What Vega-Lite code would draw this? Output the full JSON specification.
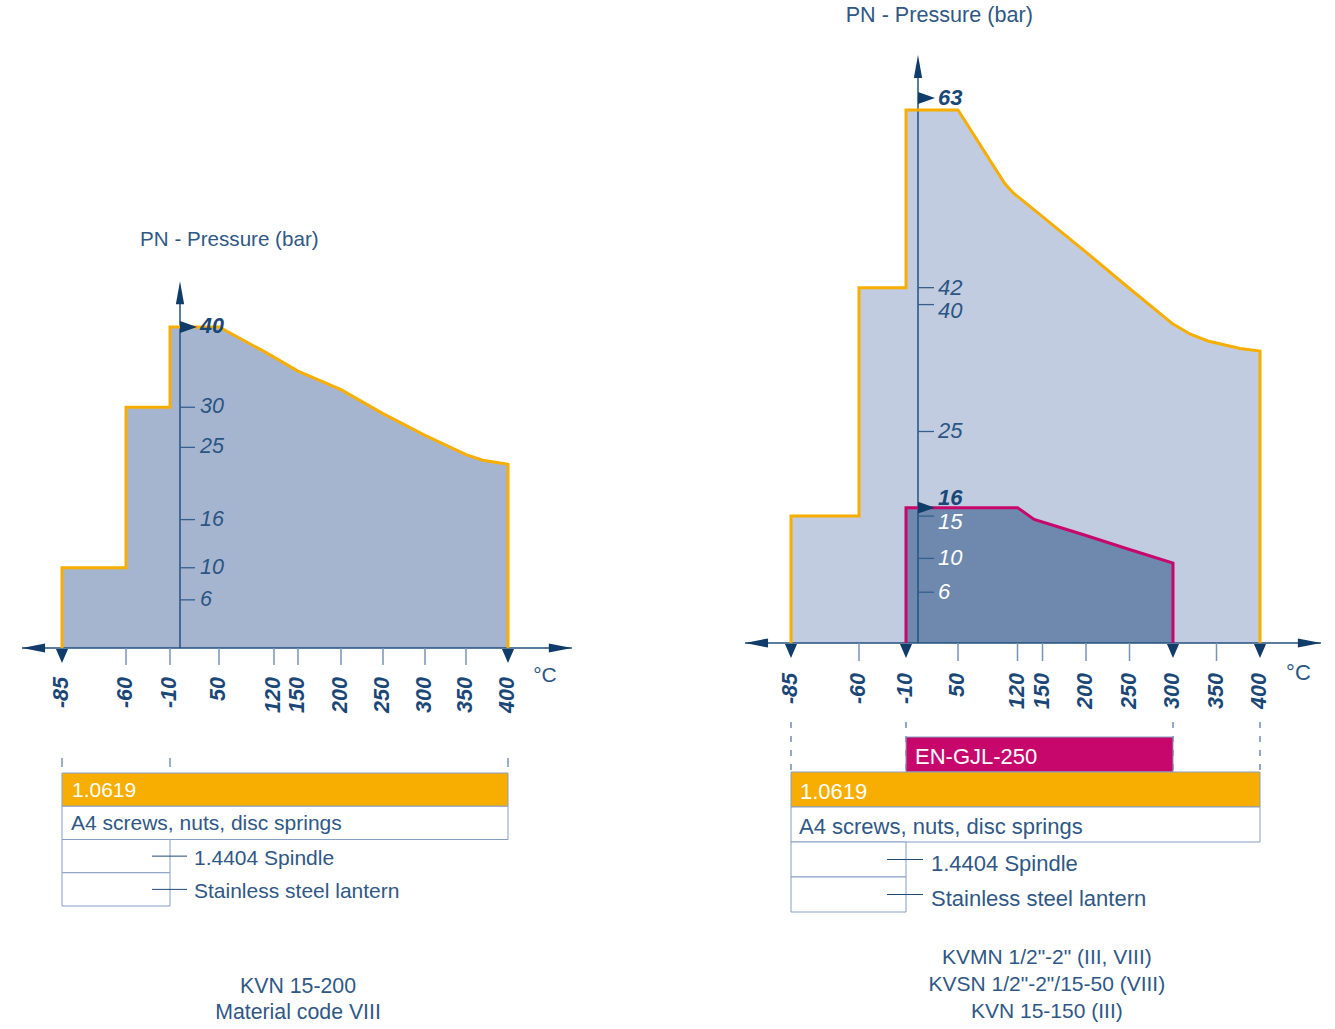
{
"$schema": "https://vega.github.io/schema/vega-lite/v6.json",
"width": 1335, "height": 1029, "autosize": {"type": "none"}, "padding": 0, "background": "white",
"config": {"font": "Liberation Sans", "view": {"stroke": null}, "axis": {"disable": true}, "legend": {"disable": true}},
"data": {"values": [{}]},
"datasets": {
 "Lenv": [{"t":-85,"p":0},{"t":-85,"p":10},{"t":-60,"p":10},{"t":-60,"p":30},{"t":-10,"p":30},{"t":-10,"p":40},{"t":50,"p":40},{"t":110,"p":36.8},{"t":150,"p":34.5},{"t":200,"p":32.2},{"t":250,"p":29.2},{"t":300,"p":26.5},{"t":350,"p":24.1},{"t":370,"p":23.4},{"t":400,"p":22.9},{"t":400,"p":0}],
 "Renv": [{"t":-85,"p":0},{"t":-85,"p":15},{"t":-60,"p":15},{"t":-60,"p":42},{"t":-10,"p":42},{"t":-10,"p":63},{"t":50,"p":63},{"t":105,"p":54.3},{"t":115,"p":53.2},{"t":150,"p":50.4},{"t":200,"p":46.2},{"t":250,"p":41.9},{"t":300,"p":37.7},{"t":320,"p":36.5},{"t":340,"p":35.7},{"t":377,"p":34.8},{"t":400,"p":34.5},{"t":400,"p":0}],
 "Rcast": [{"t":-10,"p":0},{"t":-10,"p":16},{"t":120,"p":16},{"t":140,"p":14.6},{"t":175,"p":13.5},{"t":200,"p":12.7},{"t":250,"p":11.05},{"t":300,"p":9.45},{"t":300,"p":0}],
 "Lx": [{"t":-85,"limit":true},{"t":-60,"limit":false},{"t":-10,"limit":false},{"t":50,"limit":false},{"t":120,"limit":false},{"t":150,"limit":false},{"t":200,"limit":false},{"t":250,"limit":false},{"t":300,"limit":false},{"t":350,"limit":false},{"t":400,"limit":true}],
 "Rx": [{"t":-85,"limit":true},{"t":-60,"limit":false},{"t":-10,"limit":true},{"t":50,"limit":false},{"t":120,"limit":false},{"t":150,"limit":false},{"t":200,"limit":false},{"t":250,"limit":false},{"t":300,"limit":true},{"t":350,"limit":false},{"t":400,"limit":true}],
 "Ly": [{"p":6,"rated":false},{"p":10,"rated":false},{"p":16,"rated":false},{"p":25,"rated":false},{"p":30,"rated":false},{"p":40,"rated":true}],
 "Ry": [{"p":6,"zone":"cast"},{"p":10,"zone":"cast"},{"p":15,"zone":"cast"},{"p":16,"zone":"castRated"},{"p":25,"zone":"body"},{"p":40,"zone":"body"},{"p":42,"zone":"body"},{"p":63,"zone":"bodyRated"}],
 "Ledges": [{"t":-85},{"t":-10},{"t":400}],
 "Redges": [{"t":-85},{"t":-10},{"t":300},{"t":400}],
 "Ltab": [{"row":"1.0619","type":"body","t0":-85,"t1":400},{"row":"A4 screws, nuts, disc springs","type":"fastener","t0":-85,"t1":400},{"row":"1.4404 Spindle","type":"part","t0":-85,"t1":-10},{"row":"Stainless steel lantern","type":"part","t0":-85,"t1":-10}],
 "Rtab": [{"row":"EN-GJL-250","type":"cast","t0":-10,"t1":300},{"row":"1.0619","type":"body","t0":-85,"t1":400},{"row":"A4 screws, nuts, disc springs","type":"fastener","t0":-85,"t1":400},{"row":"1.4404 Spindle","type":"part","t0":-85,"t1":-10},{"row":"Stainless steel lantern","type":"part","t0":-85,"t1":-10}],
 "Lcap": [{"line":"KVN 15-200"},{"line":"Material code VIII"}],
 "Rcap": [{"line":"KVMN 1/2\"-2\" (III, VIII)"},{"line":"KVSN 1/2\"-2\"/15-50 (VIII)"},{"line":"KVN 15-150 (III)"}]
},
"resolve": {"scale": {"x": "independent", "y": "independent"}},
"layer": [
 {
  "resolve": {"scale": {"y": "independent"}},
  "layer": [
   {"layer": [
    {"data":{"name":"Lenv"},"mark":{"type":"area","fill":"#a6b5cf","opacity":1},"encoding":{"x":{"field":"t","type":"quantitative","scale":{"type":"linear","domain":[-85,-60,-10,0,50,120,150,200,250,300,350,400],"range":[62,126,170,180,219,274,298,341,383,425,466,508],"zero":false,"nice":false}},"y":{"field":"p","type":"quantitative","stack":null,"scale":{"type":"linear","domain":[0,40],"range":[648,327],"zero":false,"nice":false}}}},
    {"mark":{"type":"rule","color":"#23507f","strokeWidth":1.5},"encoding":{"x":{"datum":0},"y":{"datum":0},"y2":{"datum":44}}},
    {"mark":{"type":"rule","color":"#23507f","strokeWidth":1.5},"encoding":{"x":{"datum":-100.6},"x2":{"datum":476},"y":{"datum":0}}},
    {"data":{"name":"Lx"},"transform":[{"filter":"!datum.limit"}],"mark":{"type":"rule","color":"#7893b8","strokeWidth":1.5,"y2Offset":17},"encoding":{"x":{"field":"t","type":"quantitative"},"y":{"datum":0},"y2":{"datum":0}}},
    {"data":{"name":"Ly"},"transform":[{"filter":"!datum.rated"}],"mark":{"type":"rule","color":"#34608e","strokeWidth":1.3,"x2Offset":15},"encoding":{"x":{"datum":0},"x2":{"datum":0},"y":{"field":"p","type":"quantitative"}}},
    {"data":{"name":"Lenv"},"mark":{"type":"line","color":"#f7ae00","strokeWidth":3,"strokeJoin":"miter"},"encoding":{"x":{"field":"t","type":"quantitative"},"y":{"field":"p","type":"quantitative"}}},
    {"mark":{"type":"point","shape":"M0,0L-0.36,2L0.36,2Z","size":529,"filled":true,"opacity":1,"color":"#0f3c68","strokeWidth":0},"encoding":{"x":{"datum":0},"y":{"datum":45.7}}},
    {"mark":{"type":"point","shape":"M0,0L2,-0.4L2,0.4Z","size":529,"filled":true,"opacity":1,"color":"#0f3c68","strokeWidth":0},"encoding":{"x":{"datum":-100.6},"y":{"datum":0}}},
    {"mark":{"type":"point","shape":"M0,0L-2,-0.4L-2,0.4Z","size":529,"filled":true,"opacity":1,"color":"#0f3c68","strokeWidth":0},"encoding":{"x":{"datum":476},"y":{"datum":0}}},
    {"data":{"name":"Lx"},"transform":[{"filter":"datum.limit"}],"mark":{"type":"point","shape":"M-0.43,0.07L0.43,0.07L0,1.07Z","size":784,"filled":true,"opacity":1,"color":"#0f3c68","strokeWidth":0},"encoding":{"x":{"field":"t","type":"quantitative"},"y":{"datum":0}}},
    {"data":{"name":"Ly"},"transform":[{"filter":"datum.rated"}],"mark":{"type":"point","shape":"M0,-0.35L1,0L0,0.35Z","size":1156,"filled":true,"opacity":1,"color":"#0f3c68","strokeWidth":0},"encoding":{"x":{"datum":0},"y":{"field":"p","type":"quantitative"}}},
    {"data":{"name":"Lx"},"mark":{"type":"text","angle":270,"align":"right","baseline":"middle","yOffset":29,"fontSize":21.5,"fontStyle":"italic","fontWeight":"bold","color":"#1b4777"},"encoding":{"x":{"field":"t","type":"quantitative"},"y":{"datum":0},"text":{"field":"t","type":"nominal"}}},
    {"data":{"name":"Ly"},"transform":[{"filter":"!datum.rated"}],"mark":{"type":"text","align":"left","baseline":"middle","dx":20,"fontSize":21.5,"fontStyle":"italic","color":"#2b5583"},"encoding":{"x":{"datum":0},"y":{"field":"p","type":"quantitative"},"text":{"field":"p","type":"nominal"}}},
    {"data":{"name":"Ly"},"transform":[{"filter":"datum.rated"}],"mark":{"type":"text","align":"left","baseline":"middle","dx":20,"fontSize":21.5,"fontStyle":"italic","fontWeight":"bold","color":"#1b4777"},"encoding":{"x":{"datum":0},"y":{"field":"p","type":"quantitative"},"text":{"field":"p","type":"nominal"}}},
    {"mark":{"type":"text","align":"left","baseline":"middle","yOffset":28,"fontSize":21,"color":"#2b5583","text":"°C"},"encoding":{"x":{"datum":430},"y":{"datum":0}}},
    {"mark":{"type":"text","align":"left","baseline":"middle","fontSize":20.6,"color":"#2f5886","text":"PN - Pressure (bar)"},"encoding":{"x":{"datum":-44},"y":{"datum":50.8}}},
    {"data":{"name":"Ledges"},"mark":{"type":"rule","color":"#7893b8","strokeWidth":1.5,"yOffset":110,"y2Offset":119},"encoding":{"x":{"field":"t","type":"quantitative"},"y":{"datum":0},"y2":{"datum":0}}}
   ]},
   {"layer": [
    {"data":{"name":"Ltab"},"mark":{"type":"rect","stroke":"#859fc2","strokeWidth":1},"encoding":{"x":{"field":"t0","type":"quantitative"},"x2":{"field":"t1"},"y":{"field":"row","type":"nominal","scale":{"type":"band","domain":["1.0619","A4 screws, nuts, disc springs","1.4404 Spindle","Stainless steel lantern"],"range":[773,906],"paddingInner":0,"paddingOuter":0}},"fill":{"field":"type","type":"nominal","legend":null,"scale":{"domain":["body","cast","fastener","part"],"range":["#f7ae00","#c8076d","#ffffff","#ffffff"]}}}},
    {"data":{"name":"Ltab"},"transform":[{"filter":"datum.type=='body'||datum.type=='cast'"}],"mark":{"type":"text","align":"left","baseline":"middle","dx":10,"dy":1,"fontSize":21,"color":"#ffffff"},"encoding":{"x":{"field":"t0","type":"quantitative"},"y":{"field":"row","type":"nominal"},"text":{"field":"row"}}},
    {"data":{"name":"Ltab"},"transform":[{"filter":"datum.type=='fastener'"}],"mark":{"type":"text","align":"left","baseline":"middle","dx":9,"dy":1,"fontSize":21,"color":"#2f5886"},"encoding":{"x":{"field":"t0","type":"quantitative"},"y":{"field":"row","type":"nominal"},"text":{"field":"row"}}},
    {"data":{"name":"Ltab"},"transform":[{"filter":"datum.type=='part'"}],"mark":{"type":"text","align":"left","baseline":"middle","dx":24,"dy":3,"fontSize":21,"color":"#2f5886"},"encoding":{"x":{"field":"t1","type":"quantitative"},"y":{"field":"row","type":"nominal"},"text":{"field":"row"}}},
    {"data":{"name":"Ltab"},"transform":[{"filter":"datum.type=='part'"}],"mark":{"type":"rule","color":"#1f4a78","strokeWidth":1,"xOffset":-18,"x2Offset":17},"encoding":{"x":{"field":"t1","type":"quantitative"},"x2":{"field":"t1"},"y":{"field":"row","type":"nominal"}}}
   ]},
   {"data":{"name":"Lcap"},"mark":{"type":"text","align":"center","baseline":"middle","fontSize":21.3,"color":"#2f5886"},"encoding":{"x":{"datum":150},"y":{"field":"line","type":"nominal","scale":{"type":"band","domain":["KVN 15-200","Material code VIII"],"range":[974,1026],"paddingInner":0,"paddingOuter":0}},"text":{"field":"line"}}}
  ]
 },
 {
  "resolve": {"scale": {"y": "independent"}},
  "layer": [
   {"layer": [
    {"data":{"name":"Renv"},"mark":{"type":"area","fill":"#c1cce0","opacity":1},"encoding":{"x":{"field":"t","type":"quantitative","scale":{"type":"linear","domain":[-85,-60,-10,0,50,120,150,200,250,300,350,400],"range":[791,859,906,918,958,1017.5,1042.5,1086,1129.5,1173,1216.5,1260],"zero":false,"nice":false}},"y":{"field":"p","type":"quantitative","stack":null,"scale":{"type":"linear","domain":[0,63],"range":[643,110],"zero":false,"nice":false}}}},
    {"data":{"name":"Rcast"},"mark":{"type":"area","fill":"#6e89ad","opacity":1},"encoding":{"x":{"field":"t","type":"quantitative"},"y":{"field":"p","type":"quantitative","stack":null}}},
    {"mark":{"type":"rule","color":"#23507f","strokeWidth":1.5},"encoding":{"x":{"datum":0},"y":{"datum":0},"y2":{"datum":68}}},
    {"mark":{"type":"rule","color":"#23507f","strokeWidth":1.5},"encoding":{"x":{"datum":-101.9},"x2":{"datum":470},"y":{"datum":0}}},
    {"data":{"name":"Rx"},"transform":[{"filter":"!datum.limit"}],"mark":{"type":"rule","color":"#7893b8","strokeWidth":1.5,"y2Offset":18},"encoding":{"x":{"field":"t","type":"quantitative"},"y":{"datum":0},"y2":{"datum":0}}},
    {"data":{"name":"Ry"},"transform":[{"filter":"datum.zone=='cast'||datum.zone=='body'"}],"mark":{"type":"rule","color":"#34608e","strokeWidth":1.3,"x2Offset":16},"encoding":{"x":{"datum":0},"x2":{"datum":0},"y":{"field":"p","type":"quantitative"}}},
    {"data":{"name":"Renv"},"mark":{"type":"line","color":"#f7ae00","strokeWidth":3,"strokeJoin":"miter"},"encoding":{"x":{"field":"t","type":"quantitative"},"y":{"field":"p","type":"quantitative"}}},
    {"data":{"name":"Rcast"},"mark":{"type":"line","color":"#c8076d","strokeWidth":3,"strokeJoin":"miter"},"encoding":{"x":{"field":"t","type":"quantitative"},"y":{"field":"p","type":"quantitative"}}},
    {"mark":{"type":"point","shape":"M0,0L-0.36,2L0.36,2Z","size":529,"filled":true,"opacity":1,"color":"#0f3c68","strokeWidth":0},"encoding":{"x":{"datum":0},"y":{"datum":69.5}}},
    {"mark":{"type":"point","shape":"M0,0L2,-0.4L2,0.4Z","size":529,"filled":true,"opacity":1,"color":"#0f3c68","strokeWidth":0},"encoding":{"x":{"datum":-101.9},"y":{"datum":0}}},
    {"mark":{"type":"point","shape":"M0,0L-2,-0.4L-2,0.4Z","size":529,"filled":true,"opacity":1,"color":"#0f3c68","strokeWidth":0},"encoding":{"x":{"datum":470},"y":{"datum":0}}},
    {"data":{"name":"Rx"},"transform":[{"filter":"datum.limit"}],"mark":{"type":"point","shape":"M-0.43,0.07L0.43,0.07L0,1.07Z","size":784,"filled":true,"opacity":1,"color":"#0f3c68","strokeWidth":0},"encoding":{"x":{"field":"t","type":"quantitative"},"y":{"datum":0}}},
    {"data":{"name":"Ry"},"transform":[{"filter":"datum.zone=='castRated'"}],"mark":{"type":"point","shape":"M0,-0.35L1,0L0,0.35Z","size":1156,"filled":true,"opacity":1,"color":"#0f3c68","strokeWidth":0},"encoding":{"x":{"datum":0},"y":{"field":"p","type":"quantitative"}}},
    {"data":{"name":"Ry"},"transform":[{"filter":"datum.zone=='bodyRated'"}],"mark":{"type":"point","shape":"M0,-0.35L1,0L0,0.35Z","size":1156,"filled":true,"opacity":1,"color":"#0f3c68","strokeWidth":0,"yOffset":-12},"encoding":{"x":{"datum":0},"y":{"field":"p","type":"quantitative"}}},
    {"data":{"name":"Rx"},"mark":{"type":"text","angle":270,"align":"right","baseline":"middle","yOffset":30,"fontSize":21.5,"fontStyle":"italic","fontWeight":"bold","color":"#1b4777"},"encoding":{"x":{"field":"t","type":"quantitative"},"y":{"datum":0},"text":{"field":"t","type":"nominal"}}},
    {"data":{"name":"Ry"},"transform":[{"filter":"datum.zone=='body'&&datum.p!=40"}],"mark":{"type":"text","align":"left","baseline":"middle","dx":20,"fontSize":22,"fontStyle":"italic","color":"#2b5583"},"encoding":{"x":{"datum":0},"y":{"field":"p","type":"quantitative"},"text":{"field":"p","type":"nominal"}}},
    {"data":{"name":"Ry"},"transform":[{"filter":"datum.zone=='body'&&datum.p==40"}],"mark":{"type":"text","align":"left","baseline":"middle","dx":20,"dy":6,"fontSize":22,"fontStyle":"italic","color":"#2b5583"},"encoding":{"x":{"datum":0},"y":{"field":"p","type":"quantitative"},"text":{"field":"p","type":"nominal"}}},
    {"data":{"name":"Ry"},"transform":[{"filter":"datum.zone=='cast'&&datum.p!=15"}],"mark":{"type":"text","align":"left","baseline":"middle","dx":20,"fontSize":22,"fontStyle":"italic","color":"#ffffff"},"encoding":{"x":{"datum":0},"y":{"field":"p","type":"quantitative"},"text":{"field":"p","type":"nominal"}}},
    {"data":{"name":"Ry"},"transform":[{"filter":"datum.zone=='cast'&&datum.p==15"}],"mark":{"type":"text","align":"left","baseline":"middle","dx":20,"dy":6,"fontSize":22,"fontStyle":"italic","color":"#ffffff"},"encoding":{"x":{"datum":0},"y":{"field":"p","type":"quantitative"},"text":{"field":"p","type":"nominal"}}},
    {"data":{"name":"Ry"},"transform":[{"filter":"datum.zone=='castRated'"}],"mark":{"type":"text","align":"left","baseline":"middle","dx":20,"dy":-10,"fontSize":22,"fontStyle":"italic","fontWeight":"bold","color":"#1b4777"},"encoding":{"x":{"datum":0},"y":{"field":"p","type":"quantitative"},"text":{"field":"p","type":"nominal"}}},
    {"data":{"name":"Ry"},"transform":[{"filter":"datum.zone=='bodyRated'"}],"mark":{"type":"text","align":"left","baseline":"middle","dx":20,"dy":-12,"fontSize":22,"fontStyle":"italic","fontWeight":"bold","color":"#1b4777"},"encoding":{"x":{"datum":0},"y":{"field":"p","type":"quantitative"},"text":{"field":"p","type":"nominal"}}},
    {"mark":{"type":"text","align":"left","baseline":"middle","yOffset":30,"fontSize":22,"color":"#2b5583","text":"°C"},"encoding":{"x":{"datum":430},"y":{"datum":0}}},
    {"mark":{"type":"text","align":"left","baseline":"middle","fontSize":21.6,"color":"#2f5886","text":"PN - Pressure (bar)"},"encoding":{"x":{"datum":-64.9},"y":{"datum":74.1}}},
    {"data":{"name":"Redges"},"mark":{"type":"rule","color":"#6f8cb3","strokeWidth":1.5,"strokeDash":[6,8],"yOffset":79,"y2Offset":129},"encoding":{"x":{"field":"t","type":"quantitative"},"y":{"datum":0},"y2":{"datum":0}}}
   ]},
   {"layer": [
    {"data":{"name":"Rtab"},"mark":{"type":"rect","stroke":"#859fc2","strokeWidth":1},"encoding":{"x":{"field":"t0","type":"quantitative"},"x2":{"field":"t1"},"y":{"field":"row","type":"nominal","scale":{"type":"band","domain":["EN-GJL-250","1.0619","A4 screws, nuts, disc springs","1.4404 Spindle","Stainless steel lantern"],"range":[737,912],"paddingInner":0,"paddingOuter":0}},"fill":{"field":"type","type":"nominal","legend":null,"scale":{"domain":["body","cast","fastener","part"],"range":["#f7ae00","#c8076d","#ffffff","#ffffff"]}}}},
    {"data":{"name":"Rtab"},"transform":[{"filter":"datum.type=='body'||datum.type=='cast'"}],"mark":{"type":"text","align":"left","baseline":"middle","dx":9,"dy":2,"fontSize":22,"color":"#ffffff"},"encoding":{"x":{"field":"t0","type":"quantitative"},"y":{"field":"row","type":"nominal"},"text":{"field":"row"}}},
    {"data":{"name":"Rtab"},"transform":[{"filter":"datum.type=='fastener'"}],"mark":{"type":"text","align":"left","baseline":"middle","dx":8,"dy":2,"fontSize":22,"color":"#2f5886"},"encoding":{"x":{"field":"t0","type":"quantitative"},"y":{"field":"row","type":"nominal"},"text":{"field":"row"}}},
    {"data":{"name":"Rtab"},"transform":[{"filter":"datum.type=='part'"}],"mark":{"type":"text","align":"left","baseline":"middle","dx":25,"dy":4,"fontSize":22,"color":"#2f5886"},"encoding":{"x":{"field":"t1","type":"quantitative"},"y":{"field":"row","type":"nominal"},"text":{"field":"row"}}},
    {"data":{"name":"Rtab"},"transform":[{"filter":"datum.type=='part'"}],"mark":{"type":"rule","color":"#1f4a78","strokeWidth":1,"xOffset":-19,"x2Offset":17},"encoding":{"x":{"field":"t1","type":"quantitative"},"x2":{"field":"t1"},"y":{"field":"row","type":"nominal"}}}
   ]},
   {"data":{"name":"Rcap"},"mark":{"type":"text","align":"center","baseline":"middle","fontSize":21,"color":"#2f5886"},"encoding":{"x":{"datum":155},"y":{"field":"line","type":"nominal","scale":{"type":"band","domain":["KVMN 1/2\"-2\" (III, VIII)","KVSN 1/2\"-2\"/15-50 (VIII)","KVN 15-150 (III)"],"range":[944.5,1025.5],"paddingInner":0,"paddingOuter":0}},"text":{"field":"line"}}}
  ]
 }
]
}
